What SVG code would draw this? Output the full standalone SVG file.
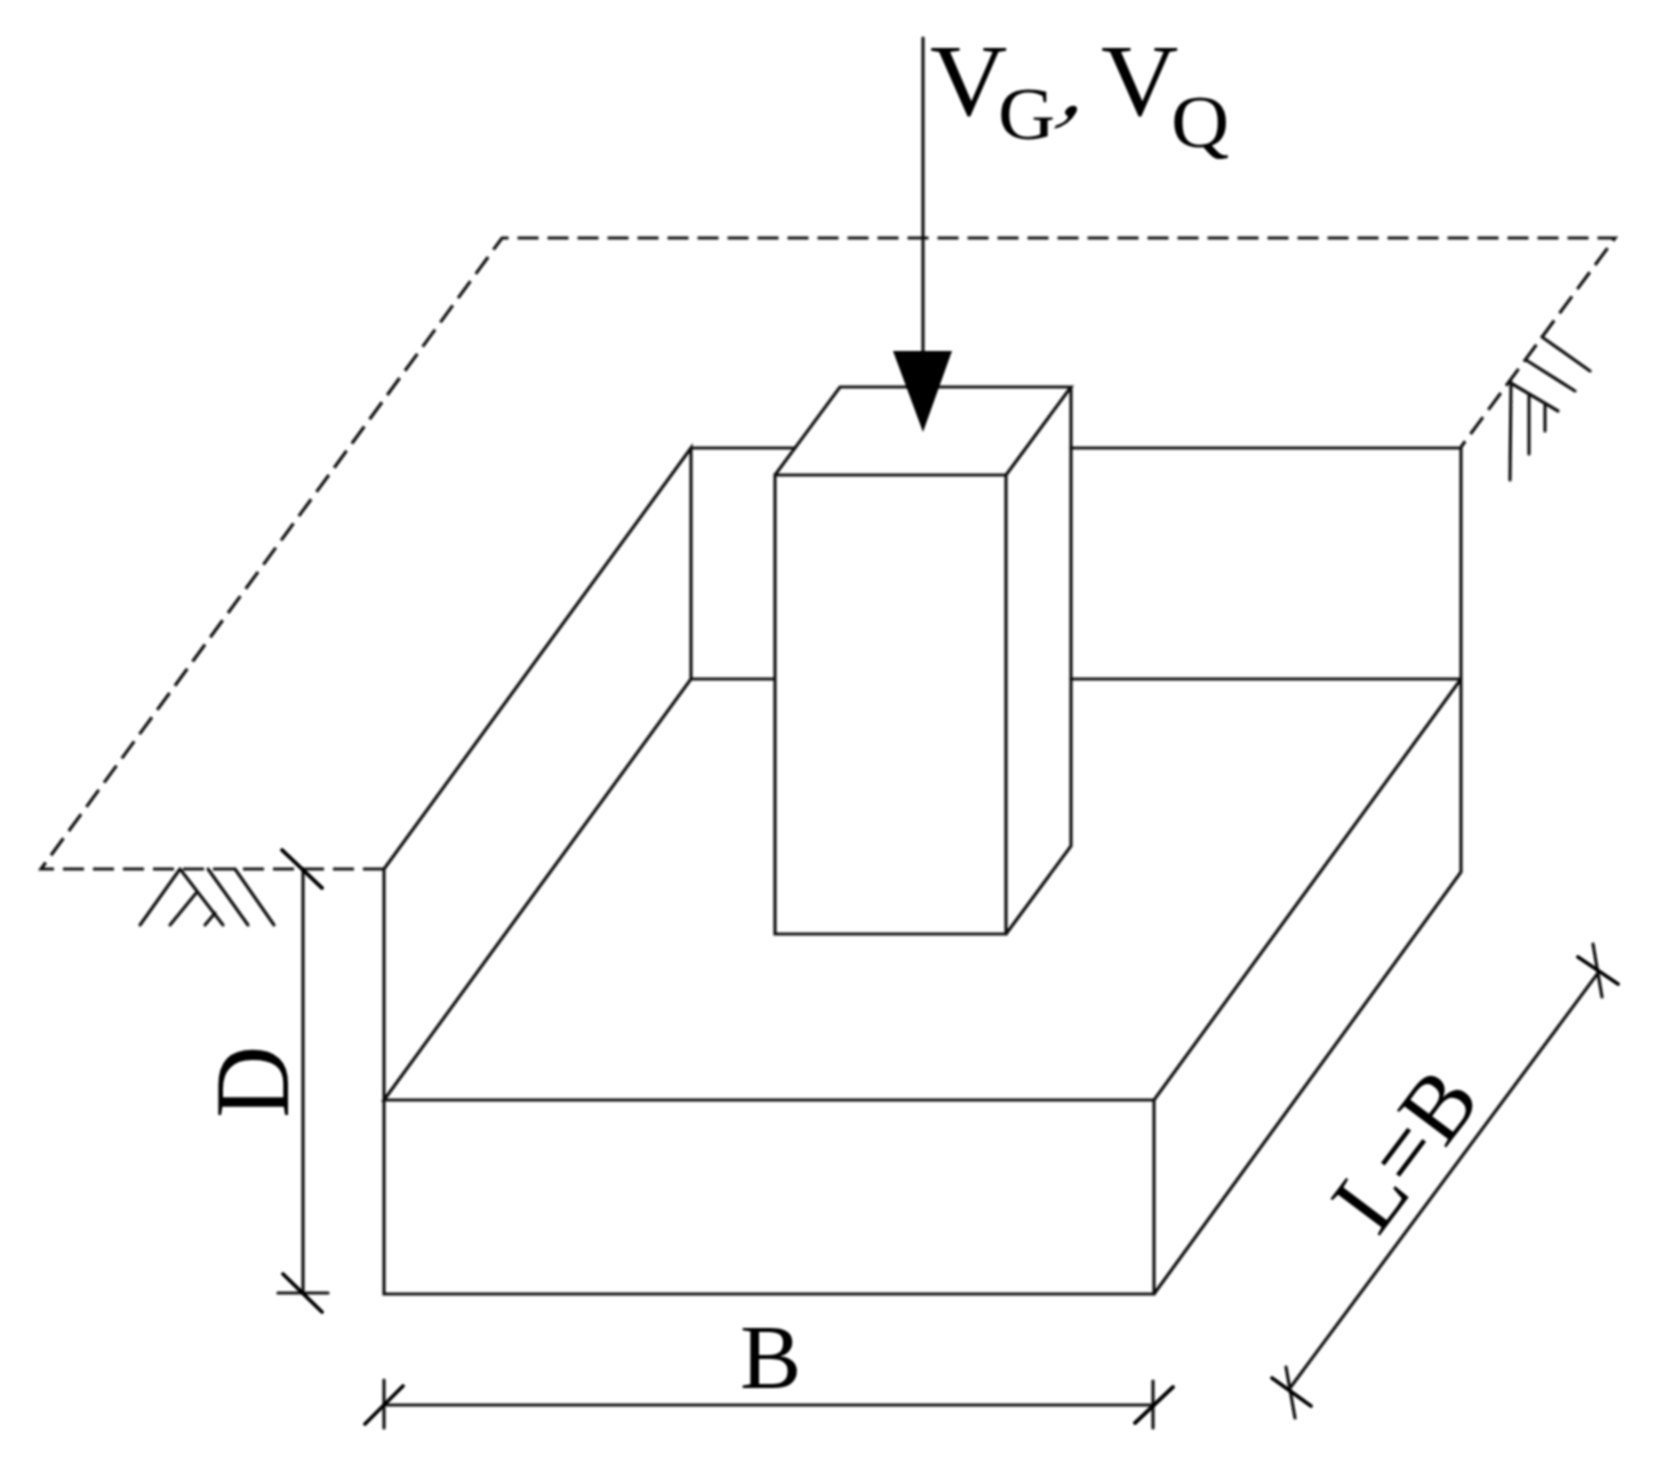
<svg xmlns="http://www.w3.org/2000/svg" width="1668" height="1467" viewBox="0 0 1668 1467">
<defs>
<filter id="soft" x="-5%" y="-5%" width="110%" height="110%"><feGaussianBlur stdDeviation="1"/></filter>
<style>
.l{fill:none;stroke:#111;stroke-width:3.2;stroke-linecap:round;stroke-linejoin:miter}
.t{fill:none;stroke:#000;stroke-width:3.8;stroke-linecap:round}
.d{fill:none;stroke:#111;stroke-width:3.2;stroke-dasharray:21 9}
.x{font-family:"Liberation Serif","Times New Roman",serif;fill:#000}
</style>
</defs>
<rect width="1668" height="1467" fill="#fff"/>
<g filter="url(#soft)">
<g id="ground">
<path class="d" d="M384 869H41L502 238H1615L1461 447"/>
<path class="l" d="M180 869L140 925M180 869L223 925M197 892L170 925M215 913L205 925M208 869L248 925M235 869L274 925"/>
<path class="l" d="M1542 337L1590 371M1526 360L1575 391M1509 382L1558 411M1511 382L1510 480M1529 395V454M1545 405V431"/>
</g>
<g id="excavation">
<path class="l" d="M384 869V1294H1154V1100H384L691 679V448L384 869M691 448H795M1071 448H1461V872L1154 1294M691 679H774M1071 679H1461M1461 679L1154 1100"/>
</g>
<g id="column">
<path class="l" d="M775 475H1006V934H775ZM775 475L840 387H1071L1006 475M1071 387V846L1006 934"/>
</g>
<g id="connectors">
<path class="l" d="M923 38V352"/>
<polygon points="893,351 952,351 923,432" fill="#000"/>
<path class="l" d="M303 869V1293M278 1293H328M384 1380V1428M384 1405H1153M1153 1381V1428M1290 1388L1598 973M1286 1367L1295 1418M1593 944L1602 997"/>
<path class="t" d="M282 850L322 888M283 1274L322 1312M403 1386L365 1424M1173 1387L1135 1423M1272 1378L1311 1406M1578 957L1618 984"/>
</g>
<g id="labels">
<text class="x" transform="translate(930 115) scale(1.05 1)" font-size="102">V</text>
<text class="x" transform="translate(998 139) scale(1.07 1)" font-size="74">G</text>
<text class="x" transform="translate(1058 115) skewX(-28)" font-size="90">,</text>
<text class="x" transform="translate(1101 115) scale(1.05 1)" font-size="102">V</text>
<text class="x" transform="translate(1171 147) scale(1.09 1)" font-size="74">Q</text>
<text class="x" x="740" y="1388" font-size="92">B</text>
<text class="x" transform="translate(288 1118) rotate(-90) scale(1 1.06)" font-size="100">D</text>
<text class="x" transform="translate(1378 1238) rotate(-53)" font-size="94">L=B</text>
</g>
</g>
</svg>
